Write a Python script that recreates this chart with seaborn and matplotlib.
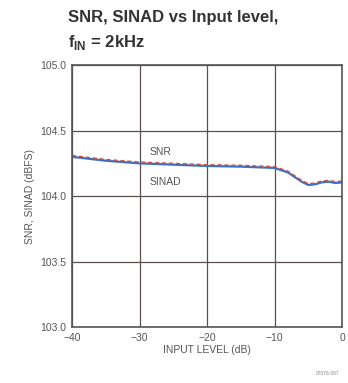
import pandas as pd
import seaborn as sns
import matplotlib.pyplot as plt

# Data
input_level = [-40, -35, -30, -25, -20, -15, -10, -8, -6, -5, -4, -3, -2, -1, 0]
snr = [104.31, 104.28, 104.26, 104.25, 104.24, 104.235, 104.225, 104.19, 104.12, 104.095, 104.10, 104.115, 104.12, 104.11, 104.115]
sinad = [104.30, 104.27, 104.25, 104.24, 104.23, 104.225, 104.215, 104.18, 104.11, 104.085, 104.09, 104.105, 104.11, 104.10, 104.105]

df = pd.DataFrame({'level': input_level * 2,
                   'value': snr + sinad,
                   'series': ['SNR'] * len(snr) + ['SINAD'] * len(sinad)})

sns.set_style("white")
plt.rcParams['font.family'] = ['Liberation Sans', 'DejaVu Sans']
fig, ax = plt.subplots(figsize=(3.48, 3.83), dpi=100)
fig.subplots_adjust(left=0.207, right=0.983, top=0.83, bottom=0.146)

sns.lineplot(data=df[df.series == 'SINAD'], x='level', y='value', color='#3a6fc8', linewidth=1.6, ax=ax)
sns.lineplot(data=df[df.series == 'SNR'], x='level', y='value', color='#d0503a', linewidth=1.0,
             linestyle=(0, (3, 2)), ax=ax)

ax.set_xlim(-40, 0)
ax.set_ylim(103.0, 105.0)
ax.set_xticks([-40, -30, -20, -10, 0])
ax.set_xticklabels(['\u221240', '\u221230', '\u221220', '\u221210', '0'])
ax.set_yticks([103.0, 103.5, 104.0, 104.5, 105.0])
ax.set_yticklabels(['103.0', '103.5', '104.0', '104.5', '105.0'])
ax.tick_params(labelsize=7.5, colors='#555555', length=0, pad=4)
ax.grid(True, color='#5a5050', linewidth=0.9)
for s in ax.spines.values():
    s.set_color('#555555')
    s.set_linewidth(1.2)

ax.set_xlabel('INPUT LEVEL (dB)', fontsize=7.5, color='#555555', labelpad=2)
ax.set_ylabel('SNR, SINAD (dBFS)', fontsize=7.5, color='#555555', labelpad=4)

ax.text(-28.5, 104.34, 'SNR', fontsize=7.5, color='#555555', va='center')
ax.text(-28.5, 104.11, 'SINAD', fontsize=7.5, color='#555555', va='center')

fig.text(0.195, 0.975, 'SNR, SINAD vs Input level,', fontsize=12, fontweight='bold',
         color='#333333', va='top')
fig.text(0.195, 0.915, r'f$_{\mathregular{IN}}$ = 2kHz', fontsize=12, fontweight='bold',
         color='#333333', va='top')
fig.text(0.975, 0.02, '07076-007', fontsize=3.5, color='#888888', ha='right')

plt.savefig('out.png', dpi=100)
